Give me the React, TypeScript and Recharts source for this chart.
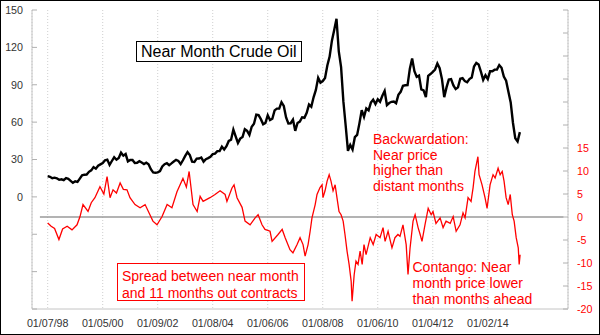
import React from 'react';
import { LineChart, Line, XAxis, YAxis, CartesianGrid, ReferenceLine } from 'recharts';

// Monthly near-month crude oil price, Jan 1998 .. Mar 2015 (index 0 = Jan 1998)
const crudePrices: number[] = [
  16.7, 16.1, 15.0, 15.4, 14.9, 13.7, 14.1, 13.4, 15.0, 14.4, 12.9, 11.3,
  12.5, 12.0, 14.7, 17.3, 17.8, 17.9, 20.1, 21.3, 23.9, 22.6, 25.0, 26.1,
  27.2, 29.4, 29.9, 25.7, 28.8, 31.8, 29.8, 31.2, 35.5, 33.1, 34.4, 28.5,
  29.6, 29.6, 27.2, 27.4, 28.6, 27.6, 26.4, 27.4, 26.2, 22.2, 19.6, 19.4,
  19.7, 20.7, 24.4, 26.2, 27.0, 25.5, 26.9, 28.4, 29.7, 28.9, 26.3, 29.4,
  32.9, 35.9, 33.5, 28.3, 28.1, 30.7, 30.8, 31.6, 28.3, 30.3, 31.1, 32.1,
  34.3, 34.7, 36.7, 36.7, 40.3, 38.0, 40.7, 44.9, 45.9, 54.0, 48.5, 43.3,
  46.8, 48.0, 54.3, 53.0, 49.8, 56.3, 58.7, 66.0, 65.6, 62.4, 58.3, 59.4,
  65.5, 61.6, 62.7, 69.4, 70.8, 70.9, 76.0, 73.0, 63.8, 58.9, 59.1, 62.0,
  53.0, 59.3, 60.4, 63.9, 63.5, 67.5, 74.1, 72.4, 79.9, 85.8, 95.5, 91.7,
  93.0, 95.4, 105.5, 112.6, 125.4, 134.0, 143.0, 116.7, 104.1, 76.6, 57.3, 37.0,
  41.7, 38.0, 47.9, 49.7, 59.0, 69.6, 64.2, 71.0, 69.4, 75.7, 78.0, 74.5,
  78.3, 76.4, 81.2, 85.0, 73.7, 75.3, 76.3, 76.6, 75.2, 81.9, 84.3, 89.2,
  89.6, 89.7, 102.9, 111.0, 100.9, 96.3, 97.3, 86.3, 85.5, 80.0, 97.2, 98.6,
  100.3, 102.2, 107.0, 103.3, 94.7, 80.0, 87.9, 94.1, 94.5, 89.5, 86.5, 87.9,
  94.8, 95.3, 92.9, 92.0, 94.5, 95.8, 104.6, 107.5, 106.3, 100.5, 93.9, 97.6,
  94.6, 100.8, 100.8, 102.1, 102.2, 105.8, 103.6, 96.5, 93.2, 84.4, 75.8, 59.3,
  47.0, 44.5, 52.0,
];

// Spread between near month and 11 months out: [month index since Jan 1998, value]
const spreadPoints: [number, number][] = [
  [0, -1.3], [1.5, -2.0], [3, -2.5], [4.9, -4.9], [6.5, -2.6], [8.5, -2.0], [10.6, -2.8], [12.8, -1.7],
  [14.1, 0.1], [15.4, 2.7], [17.6, 1.2], [19, 3.1], [20.6, 4.2], [22.8, 6.6], [24.5, 5.0], [25.9, 8.8],
  [27.2, 4.2], [28.5, 5.9], [30, 5.2], [31.6, 7.4], [33, 6.0], [34.6, 5.9], [35.9, 4.2], [38.1, 2.7],
  [40.3, 2.0], [42.5, 2.7], [44.6, 0.5], [45.9, -0.9], [47.7, -1.7], [49.9, 0.1], [52.1, 2.7], [54.2, 2.0],
  [56.4, 5.5], [59.0, 8.4], [60.5, 6.5], [61.7, 9.9], [63.4, 2.7], [65.2, 1.2], [66.5, 4.5], [67.8, 3.4],
  [70.8, 4.2], [73.0, 4.9], [75.2, 5.7], [77.4, 4.9], [78.2, 3.4], [80.4, 6.3], [81.3, 7.0], [82.6, 4.2],
  [84.8, 2.1], [86.1, -0.9], [88.3, -1.7], [90.5, -0.2], [91.8, 0.5], [93.5, -1.7], [94.8, -2.7], [97.0, -3.1],
  [97.9, -5.3], [100.5, -3.8], [102.3, -2.7], [103.6, -4.5], [105.7, -7.1], [107.0, -7.8], [108.8, -6.0], [110.1, -4.5],
  [111.4, -6.0], [112.3, -8.5], [113.6, -6.0], [114.5, -3.1], [115.3, -0.2], [116.7, 2.7], [117.5, 4.9], [118.8, 6.4],
  [119.7, 7.0], [120.1, 4.2], [121.0, 5.7], [121.9, 7.8], [122.8, 9.2], [123.6, 7.8], [124.5, 5.7], [125.4, 7.0],
  [126.2, 4.2], [127.1, 1.2], [128.0, 0.5], [128.9, -0.9], [129.7, -3.8], [130.6, -7.4], [131.5, -10.3], [132.4, -14.0],
  [132.8, -18.3], [133.7, -12.6], [134.5, -9.6], [135.4, -10.3], [136.3, -7.4], [137.2, -10.3], [138.0, -6.0], [138.9, -8.2],
  [140.7, -4.5], [142.0, -6.0], [143.3, -3.8], [145.0, -4.5], [146.3, -2.3], [147.2, -5.3], [148.5, -3.1], [150.2, -6.7],
  [151.5, -4.5], [152.8, -3.8], [153.7, -4.2], [155.0, -1.7], [156.4, -6.0], [157.2, -12.5], [158.1, -6.7], [159.4, -0.9],
  [160.3, 0.5], [161.6, -2.3], [162.5, -3.8], [163.3, -5.3], [164.6, -1.7], [166.0, 1.9], [167.3, 0.5], [168.1, 1.2],
  [169.4, -1.4], [171.2, -0.2], [172.5, -2.3], [173.8, -0.9], [175.6, -1.4], [176.9, 0.1], [178.2, -3.1], [179.9, -1.7],
  [181.2, 0.9], [182.1, -0.2], [183.4, 4.2], [184.7, 3.4], [185.6, 6.4], [186.4, 9.9], [187.7, 13.1], [188.2, 9.2],
  [189.5, 7.0], [190.8, 4.2], [191.7, 1.9], [193.0, 7.0], [194.3, 9.2], [195.2, 8.5], [196.5, 10.6], [197.4, 9.2],
  [198.3, 9.9], [199.1, 7.8], [200.0, 4.2], [200.9, 2.7], [201.8, 4.9], [202.7, 0.5], [203.5, -0.9], [204.4, -4.5],
  [205.3, -6.7], [205.7, -10.3], [206.1, -8.2],
];

const xTickMonths = [0, 24, 48, 72, 96, 120, 144, 168, 192];
const xTickLabels = ['01/07/98', '01/05/00', '01/09/02', '01/08/04', '01/06/06', '01/08/08', '01/06/10', '01/04/12', '01/02/14'];
const xDomain: [number, number] = [-6.85, 227];
const leftTicks = [-90, -60, -30, 0, 30, 60, 90, 120, 150];
const rightTicks = [-20, -15, -10, -5, 0, 5, 10, 15, 20, 25, 30, 35, 40, 45];
const zeroLineSpan = [-3.4, 225];

const crudeData = crudePrices.map((v, i) => ({ t: i, v }));
const spreadData = spreadPoints.map(([t, v]) => ({ t, v }));

const FONT = '"Liberation Sans", Arial, sans-serif';

export default function App() {
  return (
    <div style={{ position: 'absolute', left: 0, top: 0, width: 600, height: 335, background: '#fff', fontFamily: FONT }}>
      <LineChart width={600} height={335} margin={{ top: 10, right: 0, bottom: 0, left: 0 }} style={{ fontFamily: FONT }}>
        <CartesianGrid horizontal={false} vertical stroke="#cfcfcf" strokeDasharray="1 2" yAxisId="left" />
        <XAxis
          dataKey="t"
          type="number"
          domain={xDomain}
          ticks={xTickMonths}
          interval={0}
          allowDataOverflow
          tickFormatter={(v: number) => xTickLabels[xTickMonths.indexOf(v)] ?? ''}
          tickLine={false}
          tickSize={0}
          tickMargin={10}
          height={26}
          axisLine={{ stroke: '#c4c4c4' }}
          tick={{ fill: '#333', fontSize: 10.7 }}
        />
        <XAxis
          xAxisId="top"
          orientation="top"
          type="number"
          domain={xDomain}
          tick={false}
          tickLine={false}
          height={0}
          axisLine={{ stroke: '#c4c4c4' }}
        />
        <YAxis
          yAxisId="left"
          type="number"
          domain={[-90, 150]}
          ticks={leftTicks}
          interval={0}
          width={32}
          tickSize={-5}
          tickMargin={14}
          tickLine={{ stroke: '#b0b0b0' }}
          axisLine={{ stroke: '#c4c4c4' }}
          tick={{ fill: '#333', fontSize: 10.7 }}
          tickFormatter={(v: number) => (v >= 0 ? String(v) : '')}
        />
        <YAxis
          yAxisId="right"
          orientation="right"
          type="number"
          domain={[-20, 45]}
          ticks={rightTicks}
          interval={0}
          width={32}
          tickSize={-5}
          tickMargin={14}
          tickLine={{ stroke: '#b0b0b0' }}
          axisLine={{ stroke: '#c4c4c4' }}
          tick={{ fill: '#ff0000', fontSize: 10.7 }}
          tickFormatter={(v: number) => (v <= 15 ? String(v) : '')}
        />
        <ReferenceLine
          yAxisId="right"
          segment={[{ x: zeroLineSpan[0], y: 0 }, { x: zeroLineSpan[1], y: 0 }]}
          stroke="#9a9a9a"
          strokeWidth={1.5}
        />
        <Line
          data={crudeData}
          dataKey="v"
          yAxisId="left"
          type="linear"
          stroke="#000"
          strokeWidth={2.4}
          dot={false}
          isAnimationActive={false}
        />
        <Line
          data={spreadData}
          dataKey="v"
          yAxisId="right"
          type="linear"
          stroke="#ff0000"
          strokeWidth={1.3}
          dot={false}
          isAnimationActive={false}
        />
      </LineChart>

      <div style={{ position: 'absolute', left: 136, top: 41, width: 166, height: 21, boxSizing: 'border-box', border: '1px solid #000', background: '#fff', fontSize: 16, lineHeight: '19px', paddingLeft: 4, color: '#000', whiteSpace: 'nowrap' }}>
        Near Month Crude Oil
      </div>

      <div style={{ position: 'absolute', left: 117, top: 263, width: 188, height: 38, boxSizing: 'border-box', border: '1px solid #ff0000', background: '#fff', fontSize: 14, lineHeight: '17px', paddingLeft: 4, paddingTop: 3.6, color: '#ff0000', whiteSpace: 'nowrap' }}>
        <div>Spread between near month</div>
        <div>and 11 months out contracts</div>
      </div>

      <div style={{ position: 'absolute', left: 373, top: 132.4, fontSize: 14, lineHeight: '15.5px', color: '#ff0000', whiteSpace: 'nowrap' }}>
        <div>Backwardation:</div>
        <div>Near price</div>
        <div>higher than</div>
        <div>distant months</div>
      </div>

      <div style={{ position: 'absolute', left: 412.5, top: 260, fontSize: 14, lineHeight: '15.8px', color: '#ff0000', whiteSpace: 'nowrap' }}>
        <div>Contango: Near</div>
        <div>month price lower</div>
        <div>than months ahead</div>
      </div>

      <div style={{ position: 'absolute', left: 0, top: 0, width: 600, height: 335, boxSizing: 'border-box', border: '1px solid #000', pointerEvents: 'none' }} />
    </div>
  );
}
